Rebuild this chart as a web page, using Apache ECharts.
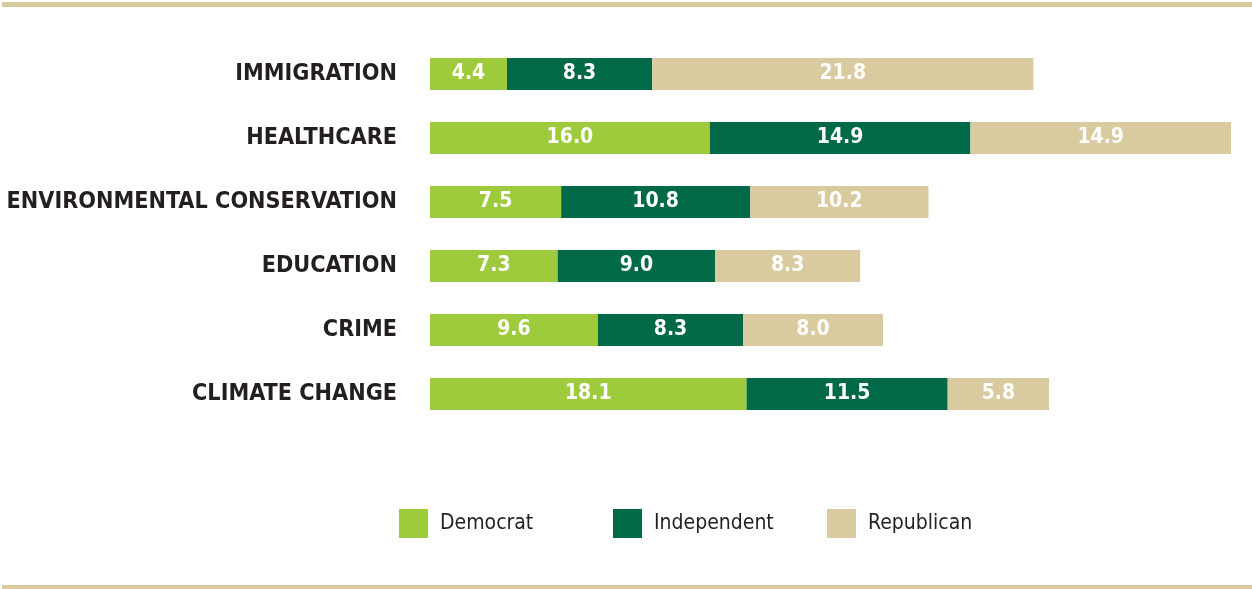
<!DOCTYPE html>
<html>
<head>
<meta charset="utf-8">
<script src="https://cdn.jsdelivr.net/npm/echarts@6/dist/echarts.min.js"></script>
<style>
    html, body { margin: 0; padding: 0; background: #fff; }
    #chart { width: 1252px; height: 589px; }
</style>
</head>
<body>
<div id="chart"></div>
<script>
// 数据
const categories = ['IMMIGRATION', 'HEALTHCARE', 'ENVIRONMENTAL CONSERVATION', 'EDUCATION', 'CRIME', 'CLIMATE CHANGE'];
const seriesNames = ['Democrat', 'Independent', 'Republican'];
const democrat = [4.4, 16.0, 7.5, 7.3, 9.6, 18.1];
const independent = [8.3, 14.9, 10.8, 9.0, 8.3, 11.5];
const republican = [21.8, 14.9, 10.2, 8.3, 8.0, 5.8];

const condensed = '"DejaVu Sans Condensed", "Liberation Sans Narrow", sans-serif';
const tan = '#d9cb9f';

const chart = echarts.init(document.getElementById('chart'));

const barLabel = {
    show: true,
    position: 'inside',
    color: '#fff',
    fontFamily: condensed,
    fontWeight: 'bold',
    fontSize: 21,
    formatter: p => p.value.toFixed(1)
};

const makeSeries = (name, data, color) => ({
    name: name,
    type: 'bar',
    stack: 'total',
    barWidth: 32,
    data: data,
    itemStyle: { color: color },
    label: barLabel
});

// 每个图例单独放置，间距与原图一致
const legendLeft = [394, 608, 822];
const legends = seriesNames.map((name, i) => ({
    left: legendLeft[i],
    top: 504,
    icon: 'rect',
    itemWidth: 29,
    itemHeight: 29,
    textStyle: {
        color: '#231f20',
        fontFamily: condensed,
        fontSize: 21,
        padding: [0, 0, 0, 7]
    },
    data: [name]
}));

let option = {
    animation: false,
    grid: {
        left: 430,
        right: 21,
        top: 42,
        bottom: 163,
        containLabel: false,
        outerBoundsMode: 'none'
    },
    xAxis: {
        type: 'value',
        min: 0,
        max: 45.8,
        show: false
    },
    yAxis: {
        type: 'category',
        inverse: true,
        data: categories,
        axisLine: { show: false },
        axisTick: { show: false },
        axisLabel: {
            margin: 33,
            color: '#231f20',
            fontFamily: condensed,
            fontWeight: 'bold',
            fontSize: 23.2
        }
    },
    legend: legends,
    graphic: [
        { type: 'rect', shape: { x: 2, y: 2, width: 1250, height: 5 }, style: { fill: tan } },
        { type: 'rect', shape: { x: 2, y: 585, width: 1250, height: 4 }, style: { fill: tan } }
    ],
    series: [
        makeSeries(seriesNames[0], democrat, '#9ecb3c'),
        makeSeries(seriesNames[1], independent, '#006a48'),
        makeSeries(seriesNames[2], republican, tan)
    ]
};

chart.setOption(option);
</script>
</body>
</html>
